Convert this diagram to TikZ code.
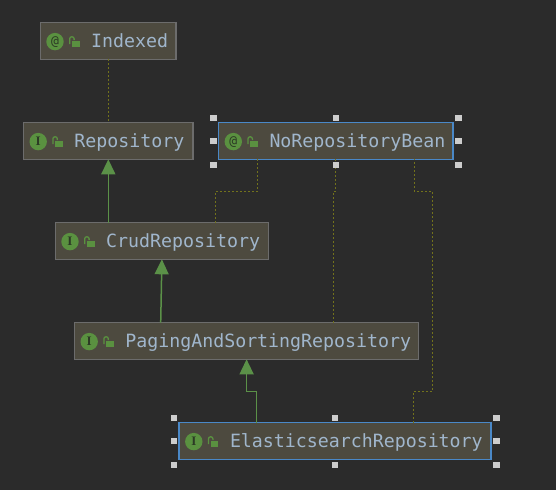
\documentclass[tikz,border=0pt]{standalone}
\usepackage{fontspec}
\setmainfont{DejaVu Sans Mono}
\newfontfamily\iconserif{Liberation Serif}
\usetikzlibrary{arrows.meta,calc}
\definecolor{bgc}{HTML}{2B2B2B}
\definecolor{boxfill}{HTML}{4D4A3F}
\definecolor{boxedge}{HTML}{6C6C6C}
\definecolor{selblue}{HTML}{4A88C7}
\definecolor{labelc}{HTML}{A0B6CC}
\definecolor{olive}{HTML}{72721C}
\definecolor{greenl}{HTML}{5B9148}
\definecolor{iconc}{HTML}{5A9140}
\definecolor{iconink}{HTML}{2C3A25}
\definecolor{handlec}{HTML}{CDCDCD}
\tikzset{
  umlbox/.style={draw=boxedge,fill=boxfill,line width=1.5pt,inner sep=0pt,outer sep=0pt,anchor=north west},
  selbox/.style={umlbox,draw=selblue},
  icondisc/.style={circle,fill=iconc,minimum size=17.4pt,inner sep=0pt,text=iconink,font=\fontsize{13}{14}\selectfont},
  lockbody/.style={fill=iconc,inner sep=0pt,minimum width=7.4pt,minimum height=6pt},
  lockline/.style={draw=iconc,line width=1.3pt,rounded corners=2pt},
  umllabel/.style={text=labelc,inner sep=0pt,anchor=base west,font=\fontsize{18.25}{20}\selectfont},
  handle/.style={fill=handlec,draw=none,minimum size=6.5pt,inner sep=0pt},
  realize/.style={draw=olive,line width=1.1pt,dash pattern=on 1.6pt off 2.4pt},
  inherit/.style={draw=greenl,line width=1.5pt,-{Triangle[length=15pt,width=14pt,fill=greenl]}}
}
\newcommand{\umlnode}[8]{% name, style, left, top, width, height, symbol, text
  \node[#2,minimum width=#5pt,minimum height=#6pt] (#1) at (#3,#4) {};
  \node[icondisc] (#1icon) at ([shift={(14.6,0.6)}]#1.west) {#7};
  \node[lockbody] (#1lock) at ([shift={(35.4,3.2)}]#1.west) {};
  \draw[lockline] ([shift={(29.3,3)}]#1.west) -- ++(0,-7.2) -- ++(4.4,0) -- ++(0,3.4);
  \node[umllabel] (#1text) at ([shift={(50.6,6.8)}]#1.west) {#8};
}
\newcommand{\handles}[1]{%
  \node[handle] (#1hnw) at ([shift={(-5,-4.6)}]#1.north west) {};
  \node[handle] (#1hn) at ([shift={(0,-4.6)}]#1.north) {};
  \node[handle] (#1hne) at ([shift={(5.6,-4.6)}]#1.north east) {};
  \node[handle] (#1hw) at ([shift={(-5,0)}]#1.west) {};
  \node[handle] (#1he) at ([shift={(5.6,0)}]#1.east) {};
  \node[handle] (#1hsw) at ([shift={(-5,5.8)}]#1.south west) {};
  \node[handle] (#1hs) at ([shift={(0,5.8)}]#1.south) {};
  \node[handle] (#1hse) at ([shift={(5.6,5.8)}]#1.south east) {};
}
\begin{document}
\begin{tikzpicture}[x=1pt,y=-1pt]
\path[use as bounding box,fill=bgc] (0,0) rectangle (556,490);
\umlnode{indexed}{umlbox}{40.4}{22.7}{135.4}{36.6}{@}{Indexed}
\umlnode{repo}{umlbox}{23.6}{122.7}{169.4}{36.6}{\iconserif\bfseries I}{Repository}
\umlnode{norepo}{selbox}{218.7}{122.7}{234.4}{36.6}{@}{NoRepositoryBean}
\umlnode{crud}{umlbox}{55.4}{222.7}{213}{36.6}{\iconserif\bfseries I}{CrudRepository}
\umlnode{paging}{umlbox}{74.6}{322.7}{344}{36.6}{\iconserif\bfseries I}{PagingAndSortingRepository}
\umlnode{elastic}{selbox}{179.2}{422.7}{311.8}{36.6}{\iconserif\bfseries I}{ElasticsearchRepository}
% realizations (dotted)
\draw[realize] (indexed.south) -- (indexed.south |- repo.north);
\coordinate (crudout) at ([xshift=53.4pt]crud.north);
\coordinate (crudin) at ([xshift=-78.6pt]norepo.south);
\coordinate (crudbend) at ($(crudin)+(0,32)$);
\draw[realize] (crudout) |- (crudbend) -- (crudin);
\coordinate (pagout) at ([xshift=87.1pt]paging.north);
\coordinate (pagbend) at ($(norepo.south)+(0,32)$);
\draw[realize] (pagout) |- (pagbend) -- (norepo.south);
\coordinate (elaout) at ([xshift=78.2pt]elastic.north);
\coordinate (elain) at ([xshift=78.4pt]norepo.south);
\coordinate (elabendtop) at ($(elain)+(0,32)$);
\coordinate (elacorner) at ($(elabendtop)+(18,0)$);
\coordinate (elabendlow) at ($(paging.south)+(0,32)$);
\draw[realize] (elaout) |- (elabendlow -| elacorner) -- (elacorner) -- (elabendtop) -- (elain);
% generalizations (solid)
\draw[inherit] (repo.south |- crud.north) -- (repo.south);
\draw[inherit] ([xshift=-85.9pt]paging.north) -- (crud.south);
\coordinate (elaparent) at ([xshift=-78.6pt]elastic.north);
\draw[inherit] (elaparent) |- (elabendlow) -- (paging.south);
% selection handles on top of connectors
\handles{norepo}
\handles{elastic}
\end{tikzpicture}
\end{document}
